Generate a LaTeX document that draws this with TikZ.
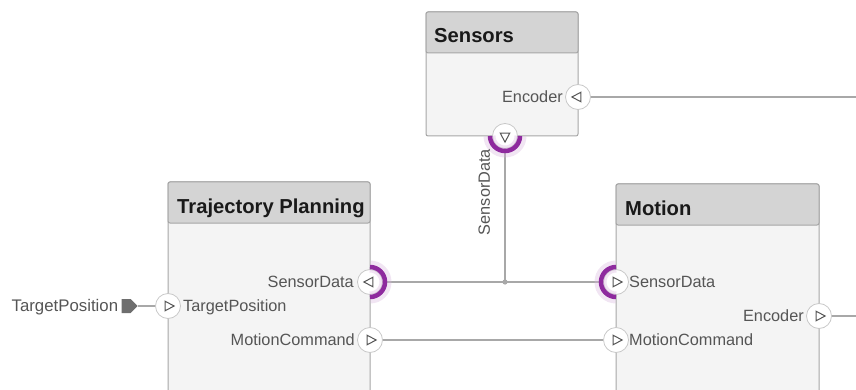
\documentclass[tikz,border=0pt]{standalone}
\usepackage{fontspec}
\setmainfont{Liberation Sans}
\usepackage{xcolor}
\usetikzlibrary{shapes.geometric,shapes.symbols,positioning}

\definecolor{edge}{HTML}{A6A6A6}
\definecolor{headfill}{HTML}{D4D4D4}
\definecolor{bodyfill}{HTML}{F4F4F4}
\definecolor{wire}{HTML}{A8A8A8}
\definecolor{txtgray}{HTML}{555555}
\definecolor{portedge}{HTML}{C8C8C8}
\definecolor{busring}{HTML}{8E2A9E}

% port: white circle on the block edge with a small triangle in it
\newcommand{\port}[3]{%
  \node[port] (#1) at (#2) {};
  \node[tri, shape border rotate=#3] (#1-tri) at (#1) {};}

\begin{document}
\begin{tikzpicture}[
        x=1pt, y=-1pt,
        every node/.style={font=\fontsize{16.3}{18}\selectfont},
        block/.style={draw=edge, fill=bodyfill, rectangle, rounded corners=2pt, line width=1pt},
        head/.style={draw=edge, fill=headfill, rectangle, rounded corners=2pt, line width=1pt, minimum height=41pt, anchor=north},
        title/.style={font=\fontsize{20.2}{22}\selectfont\bfseries, text=black!90, inner sep=0, anchor=base west},
        lbl/.style={text=txtgray, inner sep=0, text height=11.8pt, text depth=0pt},
        port/.style={circle, draw=portedge, fill=white, line width=0.8pt, minimum size=25pt, inner sep=0},
        tri/.style={isosceles triangle, isosceles triangle stretches, draw=txtgray, line width=1pt, minimum width=9.5pt, minimum height=9pt, inner sep=0},
        inport/.style={signal, signal to=east, fill=black!57, minimum width=16pt, minimum height=14pt, inner sep=0},
        conn/.style={draw=wire, line width=1.1pt},
        glow/.style={draw=busring!35, line width=12pt, opacity=0.35},
        ring/.style={draw=busring, line width=4.5pt},
    ]
        \useasboundingbox (0,0) rectangle (856,390);
        \clip (0,0) rectangle (856,390);

        % Blocks
        \node (sensors) [block, minimum width=152pt, minimum height=124pt] at (502,74) {};
        \node (sensorsHead) [head, minimum width=152pt] at (sensors.north) {};
        \node (sensorsTitle) [title] at (434,43) {Sensors};

        \node (traj) [block, minimum width=202pt, minimum height=218pt] at (269,291) {};
        \node (trajHead) [head, minimum width=202pt] at (traj.north) {};
        \node (trajTitle) [title] at (177,213) {Trajectory Planning};

        \node (motion) [block, minimum width=203pt, minimum height=216pt] at (717.5,292) {};
        \node (motionHead) [head, minimum width=203pt] at (motion.north) {};
        \node (motionTitle) [title] at (625,215) {Motion};

        % Ports
        \port{sensEnc}{578,97}{180}
        \port{sensSD}{505,136}{270}
        \port{trajSD}{370,282}{180}
        \port{trajTP}{168,306}{0}
        \port{trajMC}{370,340}{0}
        \port{motSD}{616,282}{0}
        \port{motMC}{616,340}{0}
        \port{motEnc}{819,316}{0}

        % External inport
        \node (trajIn) [inport] at (126,306) {};
        \node (trajInLbl) [lbl, left=3pt of trajIn, font=\fontsize{16.8}{18}\selectfont] {TargetPosition};

        \coordinate (encOut) at (856,97);
        \coordinate (motEncOut) at (856,316);
        \coordinate (sdJoin) at (505,282);

        % --- Connectors ---
        \draw [conn] (sensEnc) -- (encOut);
        \draw [conn] (motEnc) -- (motEncOut);
        \draw [conn] (trajIn) -- (trajTP);
        \draw [conn] (trajSD) -- (motSD);
        \draw [conn] (sensSD) -- (sdJoin);
        \draw [conn] (trajMC) -- (motMC);
        \fill [wire] (sdJoin) circle (2.6pt);

        % Bus rings
        \draw [glow] (sensSD.center) ++(180:15.5pt) arc[start angle=180, end angle=360, radius=15.5pt];
        \draw [glow] (trajSD.center) ++(-90:15.5pt) arc[start angle=-90, end angle=90, radius=15.5pt];
        \draw [glow] (motSD.center) ++(90:15.5pt) arc[start angle=90, end angle=270, radius=15.5pt];
        \draw [ring] (sensSD.center) ++(180:15pt) arc[start angle=180, end angle=360, radius=15pt];
        \draw [ring] (trajSD.center) ++(-90:15pt) arc[start angle=-90, end angle=90, radius=15pt];
        \draw [ring] (motSD.center) ++(90:15pt) arc[start angle=90, end angle=270, radius=15pt];

        % Port labels
        \node (sensEncLbl) [lbl, left=15pt of sensEnc.center] {Encoder};
        \node (sensSDLbl) [lbl, rotate=90] at (484,192) {SensorData};
        \node (trajSDLbl) [lbl, left=16pt of trajSD.center] {SensorData};
        \node (trajTPLbl) [lbl, right=15pt of trajTP.center] {TargetPosition};
        \node (trajMCLbl) [lbl, left=15pt of trajMC.center] {MotionCommand};
        \node (motSDLbl) [lbl, right=13pt of motSD.center] {SensorData};
        \node (motMCLbl) [lbl, right=13pt of motMC.center] {MotionCommand};
        \node (motEncLbl) [lbl, left=15pt of motEnc.center] {Encoder};

    \end{tikzpicture}
\end{document}
